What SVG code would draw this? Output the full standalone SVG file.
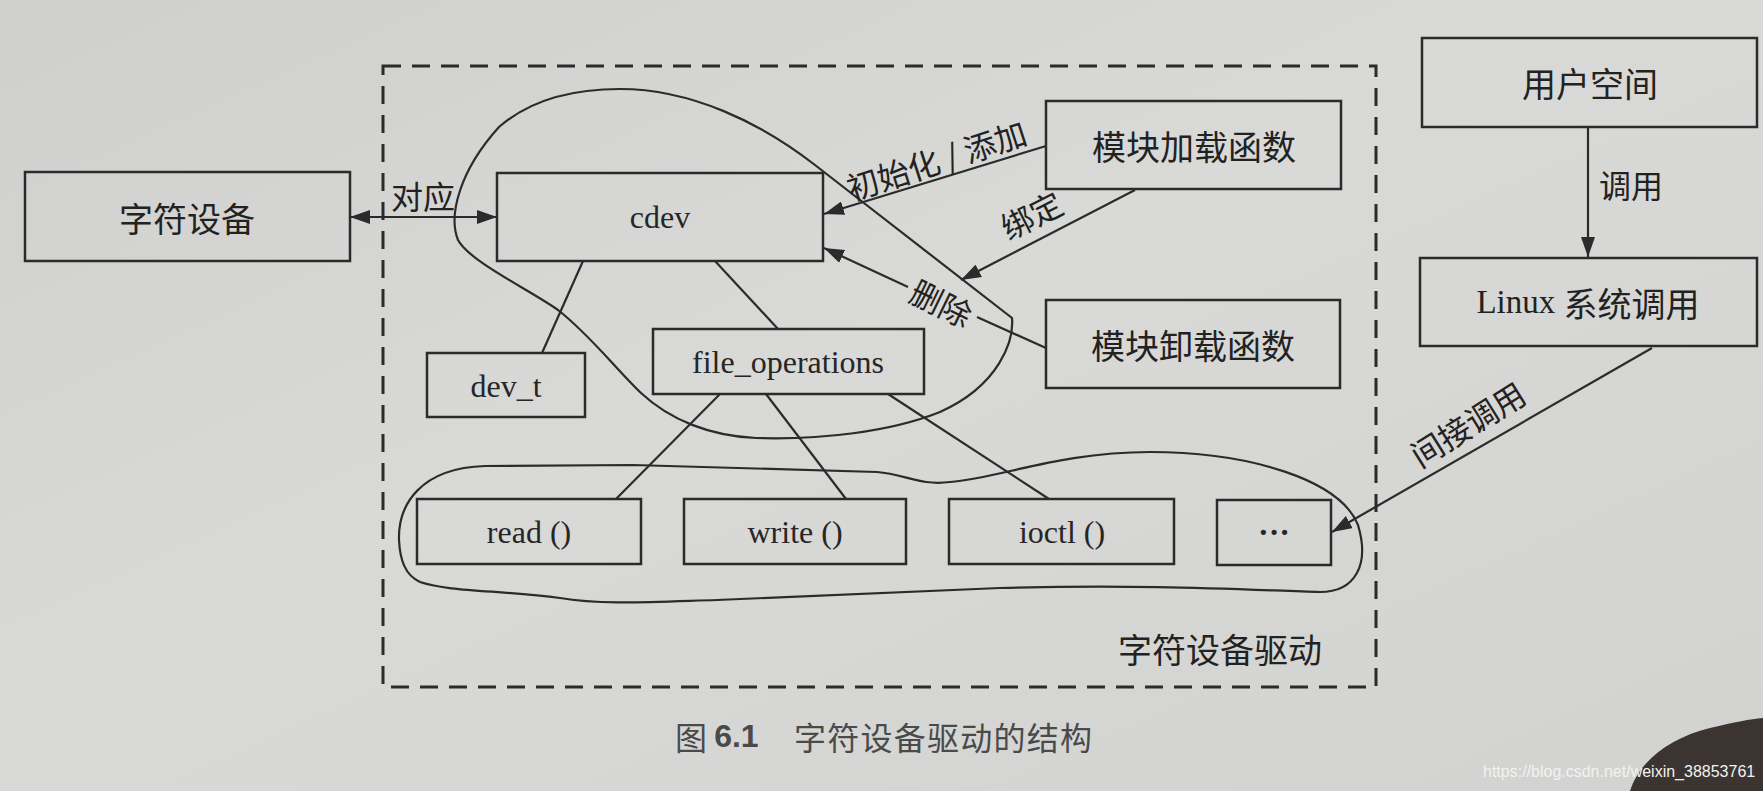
<svg xmlns="http://www.w3.org/2000/svg" width="1763" height="791" viewBox="0 0 1763 791">
  <defs>
    <linearGradient id="bg" x1="0" y1="0" x2="1" y2="1">
      <stop offset="0" stop-color="#cfd0ce"/>
      <stop offset="0.45" stop-color="#d9d9d7"/>
      <stop offset="1" stop-color="#d2d2d0"/>
    </linearGradient>
    <marker id="arr" viewBox="0 0 20 14" refX="20" refY="7" markerWidth="20" markerHeight="14" markerUnits="userSpaceOnUse" orient="auto-start-reverse">
      <path d="M0,0 L20,7 L0,14 Z" fill="#2b2b2b"/>
    </marker>
    <style>
      .box { fill: none; stroke: #2b2b2b; stroke-width: 2.5; }
      .ln { fill: none; stroke: #2b2b2b; stroke-width: 2.2; }
      .arrow { fill: none; stroke: #2b2b2b; stroke-width: 2.2; marker-end: url(#arr); }
      .blob { fill: none; stroke: #2b2b2b; stroke-width: 2.2; }
      .dash { fill: none; stroke: #2b2b2b; stroke-width: 3; stroke-dasharray: 18 11; }
      .lat { font-family: "Liberation Serif", "Times New Roman", serif; font-size: 32px; fill: #262626; text-anchor: middle; dominant-baseline: central; }
      .cjk { font-family: "Noto Sans CJK SC", "Noto Sans", sans-serif; font-size: 34px; fill: #222222; text-anchor: middle; dominant-baseline: central; }
      .lbl { font-family: "Noto Sans CJK SC", "Noto Sans", sans-serif; font-size: 32px; fill: #222222; text-anchor: middle; dominant-baseline: central; }
      .cap { font-family: "Noto Sans CJK SC", "Liberation Sans", sans-serif; font-size: 32px; fill: #4a4a4a; dominant-baseline: central; }
    </style>
  </defs>

  <rect x="0" y="0" width="1763" height="791" fill="url(#bg)"/>

  <!-- driver boundary -->
  <rect class="dash" x="383" y="66" width="993" height="621"/>
  <text class="cjk" x="1220" y="648">字符设备驱动</text>

  <!-- grouping blobs -->
  <path class="blob" d="M 620,89 C 690,89 760,122 815,165 L 1012,318 C 1014,340 1000,385 940,412 C 890,432 820,440 756,438 C 710,436 670,420 641,393 C 615,368 590,335 558,310 C 530,290 470,262 458,240 C 448,215 460,170 499,127 C 530,100 570,89 620,89 Z"/>
  <path class="blob" d="M 399,540 C 398,505 420,468 485,466 L 633,465 L 877,472 C 905,474 920,486 950,482 C 1000,478 1060,452 1150,452 C 1250,452 1340,480 1358,525 C 1370,565 1355,592 1320,592 C 1250,590 1150,584 1000,588 L 717,600 C 650,602 600,605 560,598 C 500,590 450,592 420,582 C 405,575 400,560 399,540 Z"/>

  <g id="connectors">
    <line class="arrow" x1="350" y1="217" x2="497" y2="217" style="marker-start:url(#arr)"/>
    <line class="ln" x1="583" y1="261" x2="542" y2="353"/>
    <line class="ln" x1="715" y1="261" x2="778" y2="329"/>
    <line class="ln" x1="720" y1="394" x2="616" y2="499"/>
    <line class="ln" x1="766" y1="394" x2="846" y2="499"/>
    <line class="ln" x1="888" y1="394" x2="1049" y2="499"/>
    <line class="arrow" x1="1046" y1="146" x2="824" y2="214"/>
    <line class="arrow" x1="1135" y1="190" x2="961" y2="280"/>
    <line class="ln" x1="1046" y1="348" x2="977" y2="317"/>
    <line class="arrow" x1="908" y1="287" x2="824" y2="248"/>
    <line class="arrow" x1="1588" y1="127" x2="1588" y2="257"/>
    <line class="arrow" x1="1652" y1="348" x2="1332" y2="532"/>
    <text class="lbl" x="423" y="195">对应</text>
    <text class="lbl" transform="translate(936,159) rotate(-18)">初始化 / 添加</text>
    <text class="lbl" transform="translate(1031,214) rotate(-27)">绑定</text>
    <text class="lbl" transform="translate(942,302) rotate(26)">删除</text>
    <text class="lbl" x="1631" y="184">调用</text>
    <text class="lbl" transform="translate(1467,423) rotate(-32)">间接调用</text>
  </g>

  <g id="chardev">
    <rect class="box" x="25" y="172" width="325" height="89"/>
    <text class="cjk" x="187" y="217">字符设备</text>
  </g>
  <g id="cdev">
    <rect class="box" x="497" y="173" width="326" height="88"/>
    <text class="lat" x="660" y="217">cdev</text>
  </g>
  <g id="devt">
    <rect class="box" x="427" y="353" width="158" height="64"/>
    <text class="lat" x="506" y="386">dev_t</text>
  </g>
  <g id="fops">
    <rect class="box" x="653" y="329" width="271" height="65"/>
    <text class="lat" x="788" y="362">file_operations</text>
  </g>
  <g id="modload">
    <rect class="box" x="1046" y="101" width="295" height="88"/>
    <text class="cjk" x="1194" y="145">模块加载函数</text>
  </g>
  <g id="modunload">
    <rect class="box" x="1046" y="300" width="294" height="88"/>
    <text class="cjk" x="1193" y="344">模块卸载函数</text>
  </g>
  <g id="userspace">
    <rect class="box" x="1422" y="38" width="335" height="89"/>
    <text class="cjk" x="1590" y="82">用户空间</text>
  </g>
  <g id="syscall">
    <rect class="box" x="1420" y="258" width="337" height="88"/>
    <text class="cjk" x="1588" y="302"><tspan style="font-family:'Liberation Serif',serif;font-size:33px">Linux </tspan>系统调用</text>
  </g>
  <g id="read">
    <rect class="box" x="417" y="499" width="224" height="65"/>
    <text class="lat" x="529" y="532">read ()</text>
  </g>
  <g id="write">
    <rect class="box" x="684" y="499" width="222" height="65"/>
    <text class="lat" x="795" y="532">write ()</text>
  </g>
  <g id="ioctl">
    <rect class="box" x="949" y="499" width="225" height="65"/>
    <text class="lat" x="1062" y="532">ioctl ()</text>
  </g>
  <g id="more">
    <rect class="box" x="1217" y="500" width="114" height="65"/>
    <text class="lat" x="1274" y="532" style="font-weight:bold">···</text>
  </g>

  <!-- caption -->
  <text class="cap" x="675" y="736">图 <tspan style="font-family:'Liberation Sans',sans-serif;font-weight:bold">6.1</tspan></text>
  <text class="cap" x="794" y="736" textLength="298" lengthAdjust="spacing">字符设备驱动的结构</text>

  <!-- photo corner shadow and watermark -->
  <path d="M 1630,791 C 1640,760 1670,738 1710,728 C 1735,722 1750,719 1763,718 L 1763,791 Z" fill="#3b3431"/>
  <text x="1483" y="777" style="font-family:'Liberation Sans',Arial,sans-serif;font-size:16px;fill:#f2f2f2">https://blog.csdn.net/weixin_38853761</text>
</svg>
